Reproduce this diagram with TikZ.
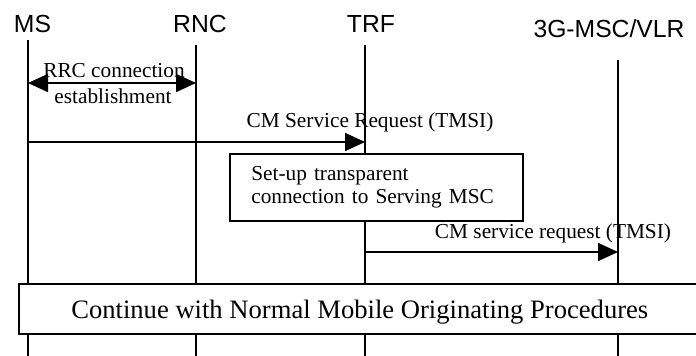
\documentclass[tikz,border=0pt]{standalone}
\usepackage{fontspec}
\setmainfont{Liberation Serif}
\newfontfamily\headfont{Liberation Sans}
\usetikzlibrary{arrows.meta}

\begin{document}
\begin{tikzpicture}[x=1pt,y=-1pt,
entity/.style={font=\headfont\fontsize{24.7}{28}\selectfont,
anchor=base,inner sep=0pt},
lbl/.style={font=\fontsize{21.3}{23}\selectfont,anchor=base,inner sep=0pt},
lifeline/.style={line width=1.7pt},
msg/.style={line width=1.6pt,-{Triangle[length=20pt,width=18pt]}},
dblmsg/.style={line width=1.6pt,
{Triangle[length=20pt,width=18pt]}-{Triangle[length=20pt,width=18pt]}},
proc/.style={draw,line width=1.6pt,fill=white}]
\useasboundingbox (0,0) rectangle (696,356);
% entities
\node[entity] (MS)  at (32.5,32) {MS};
\node[entity] (RNC) at (200,32)  {RNC};
\node[entity] (TRF) at (371,32)  {TRF};
\node[entity] (MSC) at (609,37)  {3G-MSC/VLR};
% lifelines
\coordinate (MSt)  at (28,40);  \coordinate (MSb)  at (28,356);
\coordinate (RNCt) at (196,45); \coordinate (RNCb) at (196,356);
\coordinate (TRFt) at (365,45); \coordinate (TRFb) at (365,356);
\coordinate (MSCt) at (618,60); \coordinate (MSCb) at (618,356);
\draw[lifeline] (MSt) -- (MSb);
\draw[lifeline] (RNCt) -- (RNCb);
\draw[lifeline] (TRFt) -- (TRFb);
\draw[lifeline] (MSCt) -- (MSCb);
% procedures
\node[proc,anchor=north west,minimum width=293pt,minimum height=67pt,
text width=250pt,inner xsep=21pt,align=left,
font=\fontsize{21.3}{23}\selectfont] (setup) at (229,153)
{Set-up transparent\\connection to Serving MSC};
\node[proc,anchor=north west,minimum width=682pt,minimum height=50pt,
text height=22pt,text depth=2pt,
font=\fontsize{26.6}{30}\selectfont] (cont) at (18,283)
{Continue with Normal Mobile Originating Procedures};
% messages
\coordinate (rrc1) at (28,83);  \coordinate (rrc2) at (196,83);
\coordinate (cm1)  at (28,142); \coordinate (cm2)  at (365,142);
\coordinate (cm3)  at (365,252); \coordinate (cm4) at (618,252);
\draw[dblmsg] (rrc1) -- (rrc2);
\draw[msg] (cm1) -- (cm2);
\draw[msg] (cm3) -- (cm4);
\node[lbl] (rrcA) at (114,77)  {RRC connection};
\node[lbl] (rrcB) at (113,103) {establishment};
\node[lbl] (cmA)  at (370,127) {CM Service Request (TMSI)};
\node[lbl] (cmB)  at (553,238) {CM service request (TMSI)};
\end{tikzpicture}
\end{document}
